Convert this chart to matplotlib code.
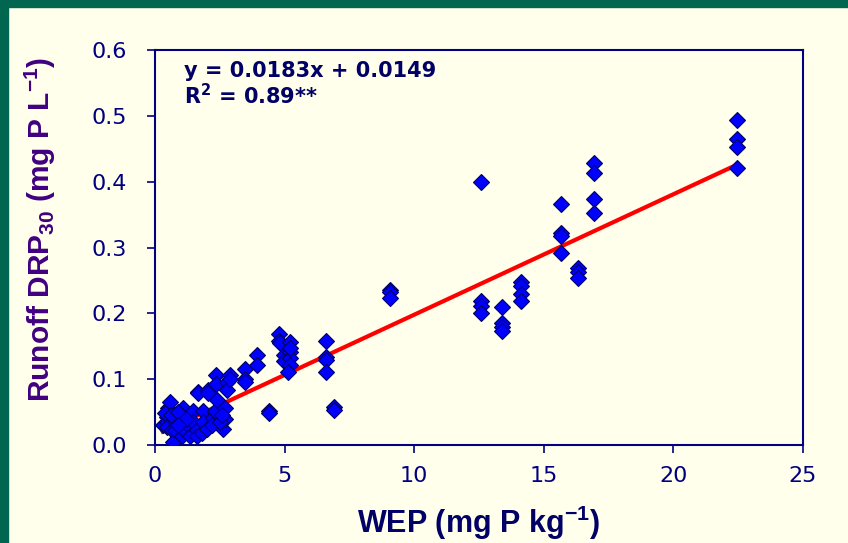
import numpy as np
import matplotlib
matplotlib.use("Agg")
import matplotlib.pyplot as plt
from matplotlib.patches import Rectangle

_BG = "#FFFFEC"
_GREEN = "#006650"
_NAVY = "#000080"
_PURPLE = "#400080"

# WEP (mg P/kg) and runoff DRP30 (mg P/L)
wep = [0.30, 0.45, 0.45, 0.45, 0.50, 0.50, 0.58, 0.64, 0.70, 0.77, 0.77, 0.77,
       1.03, 1.09, 1.09, 1.09, 1.35, 1.35, 1.48, 1.48, 1.61, 1.61, 1.67, 1.67,
       1.80, 1.87, 1.87, 2.00, 2.06, 2.06, 2.25, 2.32, 2.36, 2.36, 2.38, 2.64,
       2.70, 2.70, 2.77, 2.77, 2.90, 2.90, 0.40, 0.60, 0.90, 1.20, 0.90, 2.20,
       2.50, 2.60,
       3.48, 3.48, 3.48, 3.93, 3.93, 4.38, 4.38, 4.77, 4.77, 4.83, 4.96, 4.96,
       5.20, 5.20, 5.20, 5.20, 5.15, 5.20, 6.60, 6.60, 6.60, 6.60, 6.92, 6.92,
       9.05, 9.05, 9.05,
       12.58, 12.58, 12.58, 12.58, 13.40, 13.40, 13.40, 13.40,
       14.13, 14.13, 14.13, 14.13, 15.65, 15.65, 15.65, 15.65,
       16.32, 16.32, 16.32, 16.94, 16.94, 16.94, 16.94,
       22.45, 22.45, 22.45, 22.45]
drp = [0.030, 0.043, 0.035, 0.028, 0.056, 0.051, 0.066, 0.023, 0.005, 0.041, 0.035, 0.023,
       0.013, 0.056, 0.043, 0.025, 0.028, 0.013, 0.051, 0.035, 0.023, 0.013, 0.081, 0.079,
       0.018, 0.051, 0.035, 0.025, 0.084, 0.079, 0.041, 0.051, 0.107, 0.092, 0.068, 0.025,
       0.056, 0.040, 0.096, 0.084, 0.106, 0.101, 0.048, 0.045, 0.050, 0.040, 0.030, 0.030,
       0.035, 0.045,
       0.115, 0.101, 0.095, 0.137, 0.122, 0.052, 0.048, 0.169, 0.158, 0.155, 0.137, 0.127,
       0.156, 0.142, 0.132, 0.122, 0.111, 0.148, 0.158, 0.134, 0.129, 0.111, 0.057, 0.053,
       0.236, 0.232, 0.224,
       0.399, 0.219, 0.211, 0.200, 0.210, 0.186, 0.180, 0.173,
       0.247, 0.241, 0.229, 0.218, 0.366, 0.322, 0.318, 0.292,
       0.269, 0.263, 0.253, 0.428, 0.413, 0.373, 0.352,
       0.494, 0.465, 0.453, 0.421]

slope, intercept = 0.0183, 0.0149

plt.rcParams["font.family"] = ["Liberation Sans", "DejaVu Sans"]
plt.rcParams["mathtext.default"] = "regular"

fig = plt.figure(figsize=(8.48, 5.43), dpi=100, facecolor=_BG)
fig.patches.append(Rectangle((0, 1 - 7 / 543), 1, 7 / 543, transform=fig.transFigure,
                             color=_GREEN, zorder=0))
fig.patches.append(Rectangle((0, 0), 8 / 848, 1, transform=fig.transFigure,
                             color=_GREEN, zorder=0))

ax = fig.add_axes([155 / 848, 1 - 445 / 543, 648 / 848, 395 / 543])
ax.set_facecolor(_BG)

xfit = np.array([min(wep), max(wep)])
ax.plot(xfit, slope * xfit + intercept, color="#FF0000", lw=3, zorder=2)
ax.plot(wep, drp, ls="none", marker="D", ms=8, mfc="#0000FF", mec="#000066",
        mew=0.8, zorder=3)

ax.set_xlim(0, 25)
ax.set_ylim(0, 0.6)
ax.set_xticks(np.arange(0, 26, 5))
ax.set_yticks(np.arange(0, 0.61, 0.1))
ax.yaxis.set_major_formatter(matplotlib.ticker.FormatStrFormatter("%.1f"))

for sp in ax.spines.values():
    sp.set_color(_NAVY)
    sp.set_linewidth(1.5)
ax.tick_params(colors=_NAVY, labelcolor=_NAVY, length=6, width=1.2,
               direction="out")
ax.tick_params(axis="x", pad=9)
ax.tick_params(axis="y", pad=14)
for lab in ax.get_xticklabels() + ax.get_yticklabels():
    lab.set_family("DejaVu Sans")
    lab.set_fontsize(16)

ax.set_xlabel(r"WEP (mg P kg$^{-1}$)", color="#000066", fontsize=22,
              fontweight="bold", va="top")
ax.xaxis.set_label_coords(0.4985, -0.148)
ax.set_ylabel(r"Runoff DRP$_{30}$ (mg P L$^{-1}$)", color=_PURPLE, fontsize=21.5,
              fontweight="bold")
ax.yaxis.set_label_coords(-0.15, 0.545)

ax.text(1.1, 0.584, "y = 0.0183x + 0.0149\n" + r"R$^2$ = 0.89**", color="#000066",
        fontsize=15, fontweight="bold", family="DejaVu Sans", va="top", ha="left",
        linespacing=1.1)

fig.savefig("out.png", dpi=100, facecolor=_BG)
